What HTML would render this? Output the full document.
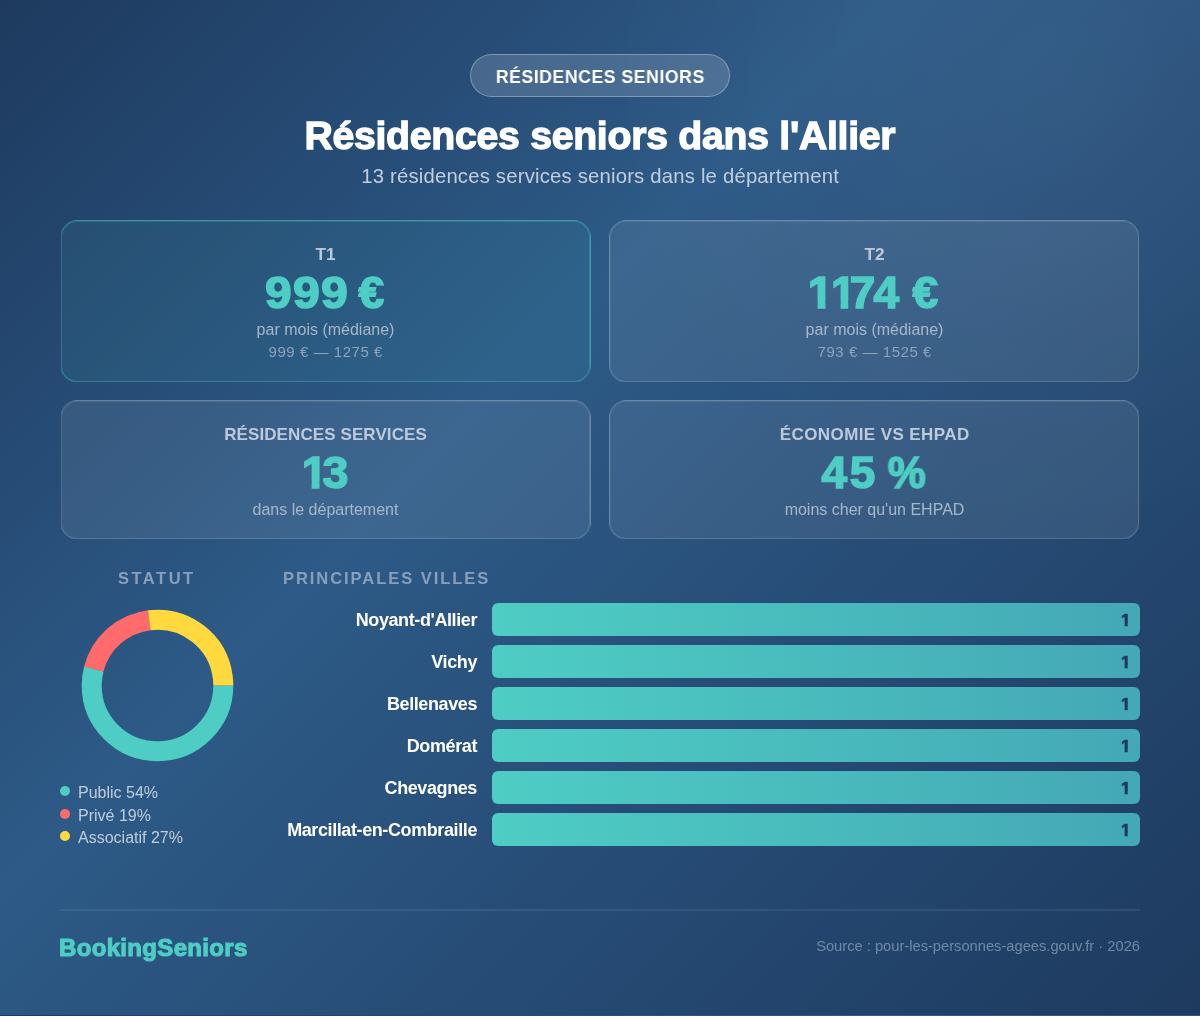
<!DOCTYPE html>
<html lang="fr">
<head>
<meta charset="utf-8">
<title>Résidences seniors dans l'Allier</title>
<style>
html,body{margin:0;padding:0;}
body{width:1200px;height:1015px;position:relative;overflow:hidden;
  font-family:"Liberation Sans", sans-serif;
  background:radial-gradient(circle at 88% 8%,rgba(255,255,255,0.045) 0%,rgba(255,255,255,0) 450px),linear-gradient(135deg,#1e3a5f 0%,#2d5a87 40%,#1e3a5f 100%);color:#fff;}
.t{position:absolute;white-space:nowrap;will-change:transform;}
.badge{position:absolute;left:470px;top:54px;width:258px;height:41px;border-radius:22px;
  background:rgba(255,255,255,0.15);border:1px solid rgba(255,255,255,0.3);}
.card{position:absolute;box-sizing:border-box;border-radius:17px;will-change:transform;transform:translate(0.5px,0.5px);
  background:rgba(255,255,255,0.08);border:1px solid rgba(255,255,255,0.24);}
.card.hl{background:rgba(78,205,196,0.08);border-color:rgba(78,205,196,0.55);}
.v{font-size:44.5px;line-height:44.5px;font-weight:700;color:#4ecdc4;-webkit-text-stroke:1.6px #4ecdc4;}
.dot{position:absolute;width:10px;height:10px;border-radius:50%;}
.bar{position:absolute;left:492px;width:648px;height:33px;border-radius:6px;
  background:linear-gradient(90deg,#4ecdc4,#44a8b6);}
</style>
</head>
<body>
<div class="badge"></div>
<div class="card hl" style="left:60px;top:220px;width:530px;height:162px;transform:translate(0.5px,0.35px);"></div>
<div class="card" style="left:609px;top:220px;width:530px;height:162px;transform:translate(0.25px,0.35px);"></div>
<div class="card" style="left:60px;top:400px;width:530px;height:139px;transform:translate(0.5px,0.35px);"></div>
<div class="card" style="left:609px;top:400px;width:530px;height:139px;transform:translate(0.25px,0.35px);"></div>
<svg style="position:absolute;left:81px;top:609px;" width="153" height="153" viewBox="0 0 153 153">
<circle cx="76.5" cy="76.5" r="65.8" fill="none" stroke="#4ecdc4" stroke-width="20" stroke-dasharray="223.25 1000"/>
<circle cx="76.5" cy="76.5" r="65.8" fill="none" stroke="#ff6b6b" stroke-width="20" stroke-dasharray="78.55 1000" transform="rotate(194.4 76.5 76.5)"/>
<circle cx="76.5" cy="76.5" r="65.8" fill="none" stroke="#ffd93d" stroke-width="20" stroke-dasharray="111.63 1000" transform="rotate(262.8 76.5 76.5)"/>
</svg>
<div class="dot" style="left:60px;top:786.3px;background:#4ecdc4;"></div>
<div class="dot" style="left:60px;top:808.6px;background:#ff6b6b;"></div>
<div class="dot" style="left:60px;top:831.3px;background:#ffd93d;"></div>
<div class="bar" style="top:603px;"></div><div class="bar" style="top:645px;"></div><div class="bar" style="top:687px;"></div><div class="bar" style="top:729px;"></div><div class="bar" style="top:771px;"></div><div class="bar" style="top:813px;"></div>
<div style="position:absolute;left:60px;top:909px;width:1080px;height:1px;background:rgba(255,255,255,0.15);will-change:transform;transform:translateY(0.5px);"></div>
<div class="t" id="badge" style="left:470px;width:260px;top:67.00px;text-align:center;font-size:19.0px;line-height:19.0px;font-weight:700;color:#ffffff;letter-spacing:0.58px;text-indent:0.58px;transform:scaleX(0.93);">RÉSIDENCES SENIORS</div>
<div class="t" id="title" style="left:0px;width:1200px;top:115.60px;text-align:center;font-size:39.2px;line-height:39.2px;font-weight:700;color:#ffffff;letter-spacing:-0.27px;text-indent:-0.27px;-webkit-text-stroke:1.3px #fff;">Résidences seniors dans l'Allier</div>
<div class="t" id="subtitle" style="left:0px;width:1200px;top:166.00px;text-align:center;font-size:20.3px;line-height:20.3px;font-weight:400;color:#c1cede;letter-spacing:0.2px;text-indent:0.2px;">13 résidences services seniors dans le département</div>
<div class="t" id="t1" style="left:60px;width:531px;top:246.00px;text-align:center;font-size:17.2px;line-height:17.2px;font-weight:700;color:#bdcadb;">T1</div>
<div class="t" id="s1" style="left:60px;width:531px;top:321.90px;text-align:center;font-size:16px;line-height:16px;font-weight:400;color:#a7b7ca;">par mois (médiane)</div>
<div class="t" id="r1" style="left:60px;width:531px;top:343.70px;text-align:center;font-size:15px;line-height:15px;font-weight:400;color:#8fa3b9;letter-spacing:0.55px;text-indent:0.55px;">999 € — 1275 €</div>
<div class="t" id="t2" style="left:609px;width:531px;top:246.00px;text-align:center;font-size:17.2px;line-height:17.2px;font-weight:700;color:#bdcadb;">T2</div>
<div class="t" id="s2" style="left:609px;width:531px;top:321.90px;text-align:center;font-size:16px;line-height:16px;font-weight:400;color:#a7b7ca;">par mois (médiane)</div>
<div class="t" id="r2" style="left:609px;width:531px;top:343.70px;text-align:center;font-size:15px;line-height:15px;font-weight:400;color:#8fa3b9;letter-spacing:0.55px;text-indent:0.55px;">793 € — 1525 €</div>
<div class="t" id="t3" style="left:60px;width:531px;top:425.80px;text-align:center;font-size:17px;line-height:17px;font-weight:700;color:#bdcadb;letter-spacing:0.1px;text-indent:0.1px;">RÉSIDENCES SERVICES</div>
<div class="t" id="s3" style="left:60px;width:531px;top:501.60px;text-align:center;font-size:16px;line-height:16px;font-weight:400;color:#a7b7ca;">dans le département</div>
<div class="t" id="t4" style="left:609px;width:531px;top:425.80px;text-align:center;font-size:17px;line-height:17px;font-weight:700;color:#bdcadb;letter-spacing:0.4px;text-indent:0.4px;">ÉCONOMIE VS EHPAD</div>
<div class="t" id="s4" style="left:609px;width:531px;top:501.60px;text-align:center;font-size:16px;line-height:16px;font-weight:400;color:#a7b7ca;">moins cher qu'un EHPAD</div>
<div class="t" id="statut" style="left:118px;width:200px;top:569.75px;text-align:left;font-size:16.5px;line-height:16.5px;font-weight:700;color:#88a0bc;letter-spacing:2.5px;">STATUT</div>
<div class="t" id="villes" style="left:283px;width:400px;top:569.90px;text-align:left;font-size:16.5px;line-height:16.5px;font-weight:700;color:#88a0bc;letter-spacing:1.95px;">PRINCIPALES VILLES</div>
<div class="t" id="leg1" style="left:78px;width:200px;top:785.00px;text-align:left;font-size:16px;line-height:16px;font-weight:400;color:#c1cddc;">Public 54%</div>
<div class="t" id="leg2" style="left:78px;width:200px;top:808.00px;text-align:left;font-size:16px;line-height:16px;font-weight:400;color:#c1cddc;">Privé 19%</div>
<div class="t" id="leg3" style="left:78px;width:200px;top:829.80px;text-align:left;font-size:16px;line-height:16px;font-weight:400;color:#c1cddc;">Associatif 27%</div>
<div class="t" id="brand" style="left:59px;width:400px;top:935.60px;text-align:left;font-size:24px;line-height:24px;font-weight:700;color:#4ecdc4;letter-spacing:0.33px;-webkit-text-stroke:1.1px #4ecdc4;">BookingSeniors</div>
<div class="t" id="source" style="left:640px;width:500px;top:939.00px;text-align:right;font-size:14.7px;line-height:14.7px;font-weight:400;color:#6f8aa7;">Source : pour-les-personnes-agees.gouv.fr · 2026</div>
<div class="t" id="city0" style="left:176.7px;width:300px;top:611.00px;text-align:right;font-size:18px;line-height:18px;font-weight:700;color:#ffffff;letter-spacing:-0.4px;margin-right:0.4px;">Noyant-d'Allier</div>
<div class="t" id="num0" style="left:1121.2px;width:20px;top:611.80px;text-align:left;font-size:17px;line-height:17px;font-weight:700;color:#1e3a5f;-webkit-text-stroke:0.7px #1e3a5f;clip-path:polygon(0 0,100% 0,100% 11.6px,6.7px 11.6px,6.7px 100%,3.6px 100%,3.6px 11.6px,0 11.6px);">1</div>
<div class="t" id="city1" style="left:176.7px;width:300px;top:653.00px;text-align:right;font-size:18px;line-height:18px;font-weight:700;color:#ffffff;letter-spacing:-0.4px;margin-right:0.4px;">Vichy</div>
<div class="t" id="num1" style="left:1121.2px;width:20px;top:653.80px;text-align:left;font-size:17px;line-height:17px;font-weight:700;color:#1e3a5f;-webkit-text-stroke:0.7px #1e3a5f;clip-path:polygon(0 0,100% 0,100% 11.6px,6.7px 11.6px,6.7px 100%,3.6px 100%,3.6px 11.6px,0 11.6px);">1</div>
<div class="t" id="city2" style="left:176.7px;width:300px;top:695.00px;text-align:right;font-size:18px;line-height:18px;font-weight:700;color:#ffffff;letter-spacing:-0.4px;margin-right:0.4px;">Bellenaves</div>
<div class="t" id="num2" style="left:1121.2px;width:20px;top:695.80px;text-align:left;font-size:17px;line-height:17px;font-weight:700;color:#1e3a5f;-webkit-text-stroke:0.7px #1e3a5f;clip-path:polygon(0 0,100% 0,100% 11.6px,6.7px 11.6px,6.7px 100%,3.6px 100%,3.6px 11.6px,0 11.6px);">1</div>
<div class="t" id="city3" style="left:176.7px;width:300px;top:737.00px;text-align:right;font-size:18px;line-height:18px;font-weight:700;color:#ffffff;letter-spacing:-0.4px;margin-right:0.4px;">Domérat</div>
<div class="t" id="num3" style="left:1121.2px;width:20px;top:737.80px;text-align:left;font-size:17px;line-height:17px;font-weight:700;color:#1e3a5f;-webkit-text-stroke:0.7px #1e3a5f;clip-path:polygon(0 0,100% 0,100% 11.6px,6.7px 11.6px,6.7px 100%,3.6px 100%,3.6px 11.6px,0 11.6px);">1</div>
<div class="t" id="city4" style="left:176.7px;width:300px;top:779.00px;text-align:right;font-size:18px;line-height:18px;font-weight:700;color:#ffffff;letter-spacing:-0.4px;margin-right:0.4px;">Chevagnes</div>
<div class="t" id="num4" style="left:1121.2px;width:20px;top:779.80px;text-align:left;font-size:17px;line-height:17px;font-weight:700;color:#1e3a5f;-webkit-text-stroke:0.7px #1e3a5f;clip-path:polygon(0 0,100% 0,100% 11.6px,6.7px 11.6px,6.7px 100%,3.6px 100%,3.6px 11.6px,0 11.6px);">1</div>
<div class="t" id="city5" style="left:176.7px;width:300px;top:821.00px;text-align:right;font-size:18px;line-height:18px;font-weight:700;color:#ffffff;letter-spacing:-0.4px;margin-right:0.4px;">Marcillat-en-Combraille</div>
<div class="t" id="num5" style="left:1121.2px;width:20px;top:821.80px;text-align:left;font-size:17px;line-height:17px;font-weight:700;color:#1e3a5f;-webkit-text-stroke:0.7px #1e3a5f;clip-path:polygon(0 0,100% 0,100% 11.6px,6.7px 11.6px,6.7px 100%,3.6px 100%,3.6px 11.6px,0 11.6px);">1</div>
<div class="t v" style="left:266.03px;top:270.80px;transform:scaleX(1.075);transform-origin:12.32px 50%;">9</div>
<div class="t v" style="left:294.23px;top:270.80px;transform:scaleX(1.084);transform-origin:12.32px 50%;">9</div>
<div class="t v" style="left:321.95px;top:270.80px;transform:scaleX(1.082);transform-origin:12.32px 50%;">9</div>
<div class="t v" style="left:359.16px;top:270.80px;transform:scaleX(1.038);transform-origin:12.09px 50%;">€</div>
<div class="t v" style="left:808.16px;top:270.80px;transform:scaleX(1.020);transform-origin:9.77px 50%;clip-path:polygon(0 0,100% 0,100% 30.16px,17.29px 30.16px,17.29px 100%,9.59px 100%,9.59px 30.16px,0 30.16px);">1</div>
<div class="t v" style="left:830.83px;top:270.80px;transform:scaleX(0.997);transform-origin:9.77px 50%;clip-path:polygon(0 0,100% 0,100% 30.16px,17.29px 30.16px,17.29px 100%,9.59px 100%,9.59px 30.16px,0 30.16px);">1</div>
<div class="t v" style="left:849.82px;top:270.80px;transform:scaleX(1.030);transform-origin:12.35px 50%;">7</div>
<div class="t v" style="left:874.28px;top:270.80px;transform:scaleX(1.032);transform-origin:12.59px 50%;">4</div>
<div class="t v" style="left:912.91px;top:270.80px;transform:scaleX(1.034);transform-origin:12.09px 50%;">€</div>
<div class="t v" style="left:301.68px;top:450.80px;transform:scaleX(1.030);transform-origin:9.77px 50%;clip-path:polygon(0 0,100% 0,100% 30.16px,17.29px 30.16px,17.29px 100%,9.59px 100%,9.59px 30.16px,0 30.16px);">1</div>
<div class="t v" style="left:322.72px;top:450.80px;transform:scaleX(1.046);transform-origin:12.08px 50%;">3</div>
<div class="t v" style="left:822.41px;top:450.80px;transform:scaleX(1.030);transform-origin:12.59px 50%;">4</div>
<div class="t v" style="left:850.36px;top:450.80px;transform:scaleX(1.028);transform-origin:12.44px 50%;">5</div>
<div class="t v" style="left:887.10px;top:450.80px;transform:scaleX(0.964);transform-origin:19.75px 50%;">%</div>
</body>
</html>
